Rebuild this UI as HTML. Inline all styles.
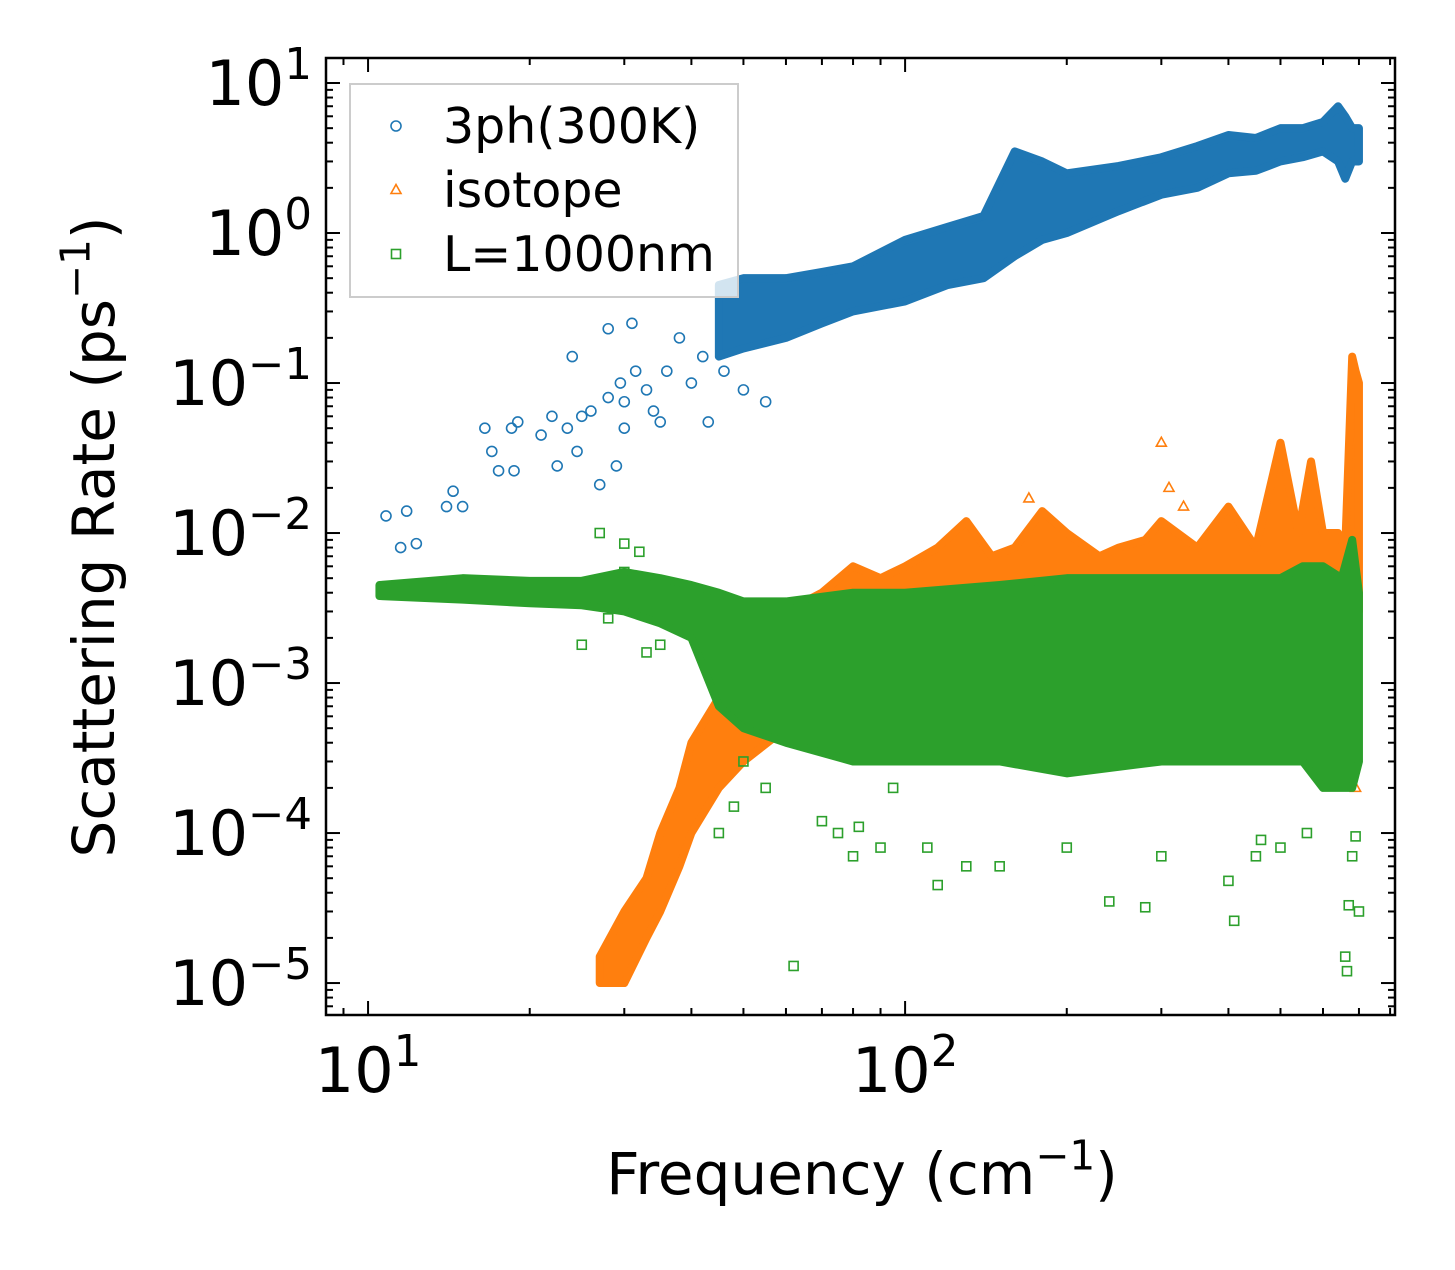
<!DOCTYPE html>
<html><head><meta charset="utf-8"><style>
body{margin:0;background:#fff}
svg text{font-family:"DejaVu Sans","Liberation Sans",sans-serif;fill:#000}
</style></head><body>
<svg id="chart" width="1455" height="1265" xmlns="http://www.w3.org/2000/svg">
<rect width="1455" height="1265" fill="#fff"/>
<defs><clipPath id="clip"><rect x="326" y="58" width="1069" height="957"/></clipPath></defs>
<g id="plot" clip-path="url(#clip)"></g>
<g id="axes"></g>
</svg>
<script>
// ---- data ----
const blueBandX=[45,50,60,70,80,100,120,140,160,180,200,250,300,350,400,450,500,550,600,640,660,680,700];
const blueBandLo=[0.15,0.17,0.2,0.25,0.3,0.35,0.45,0.5,0.7,0.9,1.0,1.4,1.8,2.0,2.5,2.6,3.0,3.2,3.5,3.0,2.3,3.0,3.0];
const blueBandHi=[0.45,0.5,0.5,0.55,0.6,0.9,1.1,1.3,3.5,3.0,2.5,2.8,3.2,3.8,4.5,4.3,5.0,5.0,5.5,7.0,6.0,5.0,5.0];
const blueX=[10.8,11.5,11.8,12.3,14,14.4,15,16.5,17,17.5,18.5,18.7,19,21,22,22.5,23.5,24,24.5,25,26,27,28,28,29,29.5,30,30,31,31.5,33,34,35,36,38,40,42,43,46,50,55];
const blueY=[0.013,0.008,0.014,0.0085,0.015,0.019,0.015,0.05,0.035,0.026,0.05,0.026,0.055,0.045,0.06,0.028,0.05,0.15,0.035,0.06,0.065,0.021,0.08,0.23,0.028,0.1,0.05,0.075,0.25,0.12,0.09,0.065,0.055,0.12,0.2,0.1,0.15,0.055,0.12,0.09,0.075];
const orangeBandX=[27,30,33,35,38,40,45,50,60,70,80,90,100,115,130,145,160,180,200,230,250,280,300,350,400,450,500,540,570,600,640,660,680,690,700];
const orangeBandLo=[1e-5,1e-5,2e-5,3e-5,6e-5,1e-4,2e-4,3e-4,5e-4,8e-4,1e-3,1e-3,1e-3,1.2e-3,1.5e-3,1.5e-3,1.5e-3,1.8e-3,2e-3,2e-3,2e-3,2e-3,2e-3,2e-3,2e-3,2e-3,2.5e-3,2.5e-3,2.5e-3,2.5e-3,3e-3,3e-3,4e-3,3e-3,3e-3];
const orangeBandHi=[1.5e-5,3e-5,5e-5,1e-4,2e-4,4e-4,8e-4,1.5e-3,3e-3,4e-3,6e-3,5e-3,6e-3,8e-3,1.2e-2,7e-3,8e-3,1.4e-2,1e-2,7e-3,8e-3,9e-3,1.2e-2,8e-3,1.5e-2,8e-3,4e-2,1e-2,3e-2,1e-2,1e-2,8e-3,1.5e-1,1.2e-1,1e-1];
const orangeX=[170,300,310,330,640,690];
const orangeY=[0.017,0.04,0.02,0.015,0.0007,0.0002];
const greenBandX=[10.5,15,20,25,30,35,40,45,50,60,80,100,150,200,300,400,500,550,600,650,680,700];
const greenBandLo=[0.0038,0.0036,0.0034,0.0033,0.003,0.0025,0.002,0.0007,0.0005,0.0004,0.0003,0.0003,0.0003,0.00025,0.0003,0.0003,0.0003,0.0003,0.0002,0.0002,0.0002,0.0003];
const greenBandHi=[0.0045,0.005,0.0048,0.0048,0.0055,0.005,0.0045,0.004,0.0035,0.0035,0.004,0.004,0.0045,0.005,0.005,0.005,0.005,0.006,0.006,0.005,0.009,0.004];
const greenX=[25,27,28,30,30,32,33,35,45,48,50,55,60,62,70,75,80,82,90,95,110,115,130,150,200,240,280,300,400,410,450,460,500,560,660,665,670,680,690,700];
const greenY=[0.0018,0.01,0.0027,0.0085,0.0055,0.0075,0.0016,0.0018,0.0001,0.00015,0.0003,0.0002,0.0008,1.3e-5,0.00012,0.0001,0.00007,0.00011,0.00008,0.0002,0.00008,0.000045,0.00006,0.00006,0.00008,0.000035,0.000032,0.00007,0.000048,0.000026,0.00007,0.00009,0.00008,0.0001,0.000015,0.000012,0.000033,0.00007,0.000095,0.00003];
const xTicks=[10,100];
const xTickLabels=[["10","1"],["10","2"]];
const yTicks=[10,1,0.1,0.01,0.001,0.0001,0.00001];
const yTickLabels=[["10","1"],["10","0"],["10","−1"],["10","−2"],["10","−3"],["10","−4"],["10","−5"]];
// ---- scales ----
const X0=326,X1=1395,Y0=58,Y1=1015;
const xl0=Math.log10(8.35),xl1=Math.log10(817),yl0=-5.213,yl1=1.1667;
const sx=v=>X0+(Math.log10(v)-xl0)/(xl1-xl0)*(X1-X0);
const sy=v=>Y1-(Math.log10(v)-yl0)/(yl1-yl0)*(Y1-Y0);
const NS="http://www.w3.org/2000/svg";
const plot=document.getElementById('plot'),axes=document.getElementById('axes');
function mk(tag,attrs,parent){const e=document.createElementNS(NS,tag);for(const k in attrs)e.setAttribute(k,attrs[k]);parent.appendChild(e);return e;}
const C={blue:'#1f77b4',orange:'#ff7f0e',green:'#2ca02c'};
function band(xs,lo,hi,col,name){
  let pts=xs.map((x,i)=>sx(x)+','+sy(hi[i]));
  for(let i=xs.length-1;i>=0;i--)pts.push(sx(xs[i])+','+sy(lo[i]));
  const p=mk('polygon',{points:pts.join(' '),fill:col,stroke:col,'stroke-width':8,'stroke-linejoin':'round'},plot);
  
  
}
function marker(kind,x,y,col,parent){
  let e;
  if(kind==='o')e=mk('circle',{cx:x,cy:y,r:5,fill:'none',stroke:col,'stroke-width':1.6},parent);
  else if(kind==='s')e=mk('rect',{x:x-4.5,y:y-4.5,width:9,height:9,fill:'none',stroke:col,'stroke-width':1.6},parent);
  else e=mk('polygon',{points:`${x},${y-5.5} ${x-5},${y+3.5} ${x+5},${y+3.5}`,fill:'none',stroke:col,'stroke-width':1.6},parent);
  return e;
}
band(orangeBandX,orangeBandLo,orangeBandHi,C.orange,'isotope-band');
orangeX.forEach((x,i)=>{const m=marker('t',sx(x),sy(orangeY[i]),C.orange,plot);

});
band(greenBandX,greenBandLo,greenBandHi,C.green,'boundary-band');
greenX.forEach((x,i)=>{const m=marker('s',sx(x),sy(greenY[i]),C.green,plot);

});
band(blueBandX,blueBandLo,blueBandHi,C.blue,'3ph-band');
blueX.forEach((x,i)=>{const m=marker('o',sx(x),sy(blueY[i]),C.blue,plot);

});
mk('rect',{x:X0,y:Y0,width:X1-X0,height:Y1-Y0,fill:'none',stroke:'#000','stroke-width':2.5},axes);
function tick(x1,y1,x2,y2){mk('line',{x1,y1,x2,y2,stroke:'#000','stroke-width':2},axes);}
for(let d=0;d<=3;d++)for(let m=1;m<=9;m++){const v=Math.pow(10,d)*m;const x=sx(v);if(x<X0||x>X1)continue;const L=m===1?14:7;tick(x,Y1,x,Y1-L);tick(x,Y0,x,Y0+L);}
for(let d=-6;d<=1;d++)for(let m=1;m<=9;m++){const v=Math.pow(10,d)*m;const y=sy(v);if(y<Y0||y>Y1)continue;const L=m===1?14:7;tick(X0,y,X0+L,y);tick(X1,y,X1-L,y);}
function sup(parent,base,exp,x,y,anchor,fs){
  const t=mk('text',{x,y,'font-size':fs,'text-anchor':anchor},parent);
  t.textContent=base;const s=mk('tspan',{'font-size':fs*0.7,dy:-fs*0.42},t);s.textContent=exp;return t;
}
xTicks.forEach((v,i)=>{const t=sup(axes,xTickLabels[i][0],xTickLabels[i][1],sx(v),1092,'middle',62);

});
yTicks.forEach((v,i)=>{const t=sup(axes,yTickLabels[i][0],yTickLabels[i][1],312,sy(v)+22,'end',62);

});
const xt=sup(axes,'Frequency (cm','−1',862,1194,'middle',58);
mk('tspan',{dy:58*0.42},xt).textContent=')';


const yg=mk('g',{transform:'translate(114,537) rotate(-90)'},axes);
const yt=sup(yg,'Scattering Rate (ps','−1',0,0,'middle',58);
mk('tspan',{dy:58*0.42},yt).textContent=')';


const lg=mk('g',{},axes);


mk('rect',{x:350,y:84,width:388,height:213,fill:'#fff','fill-opacity':0.8,stroke:'#ccc','stroke-width':2},lg);
[['o',C.blue,'3ph(300K)'],['t',C.orange,'isotope'],['s',C.green,'L=1000nm']].forEach((e,i)=>{
  const y=126+i*64;marker(e[0],396,y,e[1],lg);
  const t=mk('text',{x:443,y:y+17,'font-size':49},lg);t.textContent=e[2];
  
  
});
</script>
</body></html>
